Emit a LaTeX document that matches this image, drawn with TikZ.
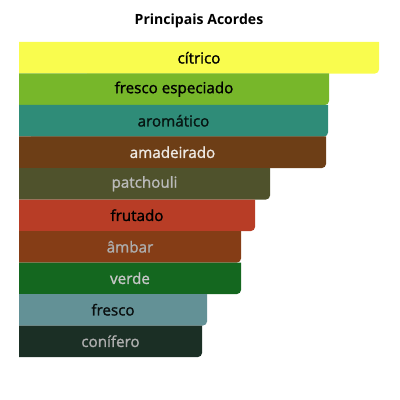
\documentclass[tikz,border=0pt]{standalone}
\usepackage{fontspec}
\setmainfont{Open Sans}
\newfontfamily\medfont{Open Sans}[FakeBold=1.4]
\usepackage{xcolor}
\usepackage{tikz}

\definecolor{cCitrico}{HTML}{F9FC4E}
\definecolor{cEspeciado}{HTML}{77B72A}
\definecolor{cAromatico}{HTML}{2F8C78}
\definecolor{cAmadeirado}{HTML}{6D3E16}
\definecolor{cPatchouli}{HTML}{4F522C}
\definecolor{cFrutado}{HTML}{B83D26}
\definecolor{cAmbar}{HTML}{853D16}
\definecolor{cVerde}{HTML}{14671F}
\definecolor{cFresco}{HTML}{639196}
\definecolor{cConifero}{HTML}{1B2F25}

\newcommand{\acordebar}[4]{% top, bottom, right, colour
  \fill[#4] (19,#1) -- (#3,#1) -- (#3,#2-4) arc[start angle=0,end angle=-90,radius=2.85pt] -- (19,#2) -- cycle;
}

\begin{document}
\begin{tikzpicture}[
    x=0.025cm, y=-0.025cm,
    title/.style={font=\fontsize{10}{12}\selectfont\bfseries},
    lbl/.style={font=\fontsize{10.8}{12}\selectfont\medfont, inner sep=0pt},
    dark/.style={lbl, text=black},
    light/.style={lbl, text=#1}
]
\useasboundingbox (0,0) rectangle (400,400);

\node[title] (titulo) at (199,21) {Principais Acordes};

\acordebar{42}{73.5}{379}{cCitrico}
\acordebar{73.5}{105}{329}{cEspeciado}
\acordebar{105}{136.5}{328}{cAromatico}
\acordebar{136.5}{168}{326}{cAmadeirado}
\acordebar{168}{199.5}{270}{cPatchouli}
\acordebar{199.5}{231}{255}{cFrutado}
\acordebar{231}{262.5}{241}{cAmbar}
\acordebar{262.5}{294}{241}{cVerde}
\acordebar{294}{325.5}{207}{cFresco}
\acordebar{325.5}{357}{202}{cConifero}

\node[dark] (citrico) at (199,57.75) {cítrico};
\node[dark] (especiado) at (174,89.25) {fresco especiado};
\node[dark, text=black!85!cAromatico] (aromatico) at (173.5,120.75) {aromático};
\node[light=white!88!cAmadeirado] (amadeirado) at (172.5,152.25) {amadeirado};
\node[light=black!27] (patchouli) at (144.5,183.75) {patchouli};
\node[dark] (frutado) at (137,215.25) {frutado};
\node[light=black!32] (ambar) at (130,246.75) {âmbar};
\node[light=black!22] (verde) at (130,278.25) {verde};
\node[dark, text=black!90!cFresco] (fresco) at (113,309.75) {fresco};
\node[light=black!32] (conifero) at (110.5,341.25) {conífero};
\end{tikzpicture}
\end{document}
